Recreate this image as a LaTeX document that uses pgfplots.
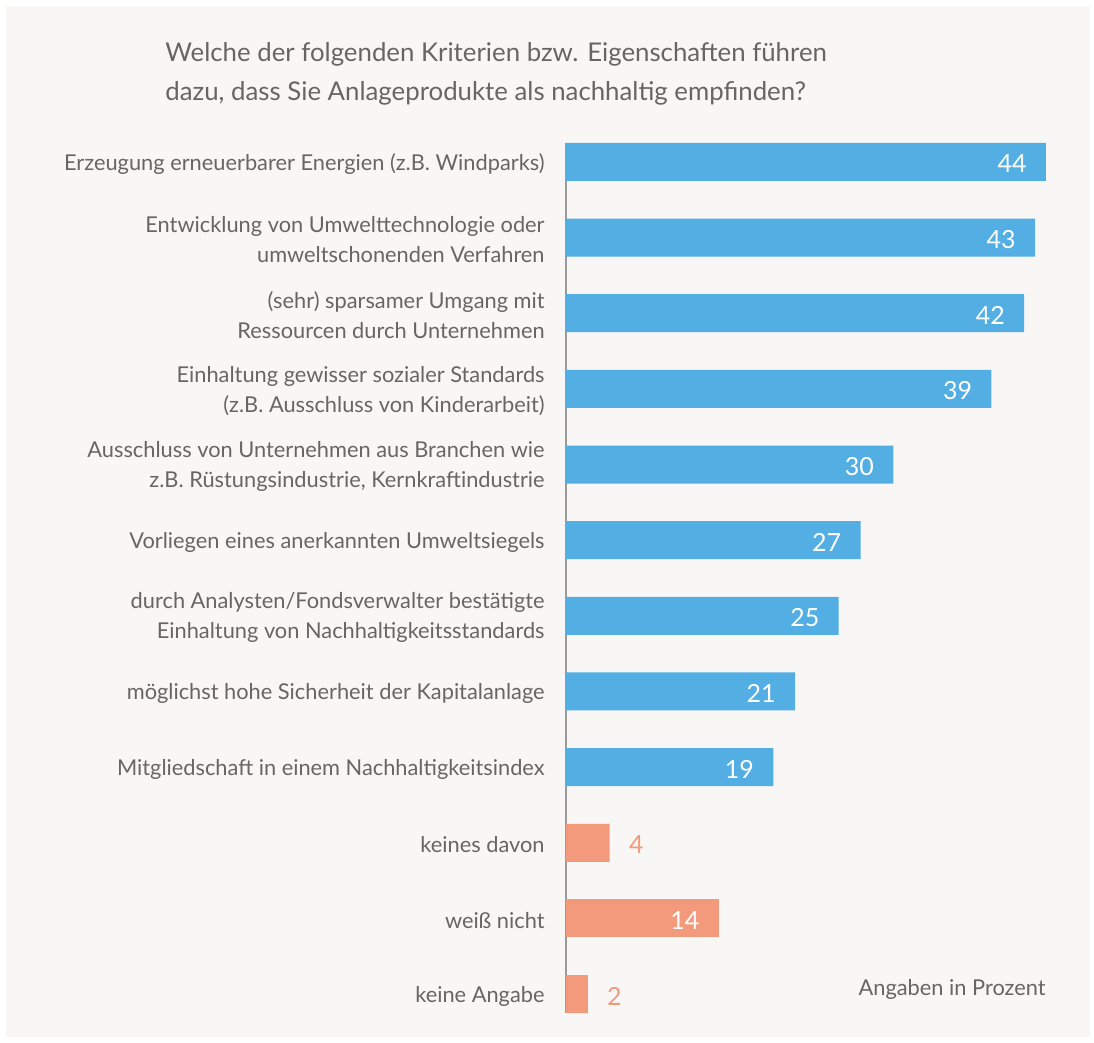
\documentclass[border=0pt]{standalone}
\usepackage{fontspec}
\setmainfont{Lato}
\usepackage{pgfplots}
\pgfplotsset{compat=1.18}
\newlength\px \setlength\px{0.5pt}
\definecolor{bg}{HTML}{F8F7F5}
\definecolor{blu}{HTML}{52AEE3}
\definecolor{ora}{HTML}{F39A7C}
\definecolor{txt}{HTML}{666666}
\definecolor{axl}{HTML}{9A9A9A}
\begin{document}
\begin{tikzpicture}
\path[use as bounding box] (0,0) rectangle (1094\px,-1043\px);
\fill[white] (0,0) rectangle (1094\px,-1043\px);
\fill[bg] (6\px,-6\px) rectangle (1090\px,-1037\px);
\node[anchor=base west, inner sep=0, text=txt, font=\fontsize{12.9pt}{20pt}\selectfont] at (165\px,-62\px) {Welche der folgenden Kriterien bzw. Eigenschaften führen};
\node[anchor=base west, inner sep=0, text=txt, font=\fontsize{12.9pt}{20pt}\selectfont] at (165\px,-101\px) {dazu, dass Sie Anlageprodukte als nachhaltig empfinden?};
\begin{axis}[
  at={(566\px,-143\px)}, anchor=north west,
  scale only axis, width=480\px, height=870\px,
  xmin=0, xmax=44, ymin=-0.25, ymax=11.25, y dir=reverse,
  clip=false,
  /pgf/number format/assume math mode=true,
  axis x line=none, axis y line=left,
  axis line style={-, draw=axl, line width=2\px},
  major tick length=0pt, ytick style={draw=none},
  ytick={0,...,11},
  yticklabels={
    {Erzeugung erneuerbarer Energien (z.B. Windparks)},
    {Entwicklung von Umwelttechnologie oder\\umweltschonenden Verfahren},
    {(sehr) sparsamer Umgang mit\\Ressourcen durch Unternehmen},
    {Einhaltung gewisser sozialer Standards\\(z.B. Ausschluss von Kinderarbeit)},
    {Ausschluss von Unternehmen aus Branchen wie\\z.B. Rüstungsindustrie, Kernkraftindustrie},
    {Vorliegen eines anerkannten Umweltsiegels},
    {durch Analysten/Fondsverwalter bestätigte\\Einhaltung von Nachhaltigkeitsstandards},
    {möglichst hohe Sicherheit der Kapitalanlage},
    {Mitgliedschaft in einem Nachhaltigkeitsindex},
    {keines davon},
    {weiß nicht},
    {keine Angabe}},
  yticklabel style={font=\fontsize{10.9pt}{15pt}\selectfont, text=txt, align=right, inner sep=0pt, xshift=-21\px, yshift=-2\px},
]
\addplot[xbar, fill=blu, draw=none, bar width=38\px, bar shift=0pt,
  point meta=x, nodes near coords,
  nodes near coords style={anchor=east, xshift=-19\px, yshift=-2\px, text=white, inner sep=0pt, font=\fontsize{12.5pt}{14pt}\selectfont}]
  coordinates {(44,0) (43,1) (42,2) (39,3) (30,4) (27,5) (25,6) (21,7) (19,8)};
\addplot[xbar, fill=ora, draw=none, bar width=38\px, bar shift=0pt,
  point meta=x, nodes near coords,
  nodes near coords style={anchor=east, xshift=-19\px, yshift=-2\px, text=white, inner sep=0pt, font=\fontsize{12.5pt}{14pt}\selectfont}]
  coordinates {(14,10)};
\addplot[xbar, fill=ora, draw=none, bar width=38\px, bar shift=0pt,
  point meta=x, nodes near coords,
  nodes near coords style={anchor=west, xshift=19\px, yshift=-2\px, text=ora, inner sep=0pt, font=\fontsize{12.5pt}{14pt}\selectfont}]
  coordinates {(4,9) (2,11)};
\end{axis}
\node[anchor=base east, inner sep=0, text=txt, font=\fontsize{10.9pt}{15pt}\selectfont] at (1046\px,-995\px) {Angaben in Prozent};
\end{tikzpicture}
\end{document}
